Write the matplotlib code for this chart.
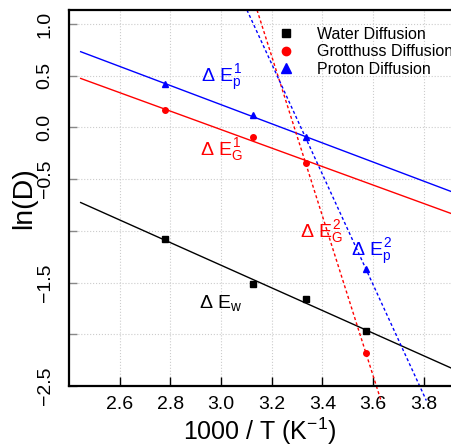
import numpy as np
import matplotlib
matplotlib.use('Agg')
import matplotlib.pyplot as plt

plt.rcParams['font.family'] = ['Liberation Sans', 'DejaVu Sans']
plt.rcParams['mathtext.fontset'] = 'custom'
plt.rcParams['mathtext.rm'] = 'Liberation Sans'
plt.rcParams['mathtext.it'] = 'Liberation Sans'
plt.rcParams['mathtext.bf'] = 'Liberation Sans:bold'

# 1000/T for 360, 320, 300, 280 K
inv_T = [2.778, 3.125, 3.333, 3.571]
ln_D_water = [-1.076, -1.515, -1.657, -1.966]
ln_D_grotthuss = [0.164, -0.097, -0.341, -2.179]
ln_D_proton = [0.420, 0.119, -0.097, -1.367]

series_names = ['Water Diffusion', 'Grotthuss Diffusion', 'Proton Diffusion']

x_ticks = [2.6, 2.8, 3.0, 3.2, 3.4, 3.6, 3.8]
x_ticklabels = ['2.6', '2.8', '3.0', '3.2', '3.4', '3.6', '3.8']
y_ticks = [1.0, 0.5, 0.0, -0.5, -1.0, -1.5, -2.0, -2.5]
y_ticklabels = ['1.0', '0.5', '0.0', '\u22120.5', '', '\u22121.5', '', '\u22122.5']

energy_labels = [r'$\Delta\ E_p^1$', r'$\Delta\ E_G^1$', r'$\Delta\ E_w$',
                 r'$\Delta\ E_G^2$', r'$\Delta\ E_p^2$']

XMIN, XMAX = 2.4, 3.907
YMIN, YMAX = -2.5, 1.136

fig = plt.figure(figsize=(4.51, 4.47), dpi=100)
ax = fig.add_axes([0.153, 0.1365, 0.847, 0.8412])

x = np.array(inv_T)
fit_x = np.array([2.446, 3.95])

# low-T-range fits (solid)
p_w = np.polyfit(x, ln_D_water, 1)
p_g = np.polyfit(x[:3], ln_D_grotthuss[:3], 1)
p_p = np.polyfit(x[:3], ln_D_proton[:3], 1)
ax.plot(fit_x, np.polyval(p_w, fit_x), color='black', lw=1.0)
ax.plot(fit_x, np.polyval(p_g, fit_x), color='red', lw=1.0)
ax.plot(fit_x, np.polyval(p_p, fit_x), color='blue', lw=1.0)

# steep segments through the two coldest points (dashed, run past the axis)
dash_y = np.array([YMAX, -2.64])
for yy, col in [(ln_D_grotthuss, 'red'), (ln_D_proton, 'blue')]:
    k = np.polyfit(x[2:], yy[2:], 1)
    ax.plot((dash_y - k[1]) / k[0], dash_y, color=col, lw=1.0,
            dashes=(2.2, 1.8), clip_on=False)

h1, = ax.plot(x, ln_D_water, 's', color='black', ms=4, ls='none')
h2, = ax.plot(x, ln_D_grotthuss, 'o', color='red', ms=4, ls='none')
h3, = ax.plot(x, ln_D_proton, '^', color='blue', ms=4.5, ls='none')

# activation energy labels
fs = 14
ax.text(3.004, 0.438, energy_labels[0], color='blue', fontsize=fs, ha='center', va='baseline')
ax.text(3.001, -0.264, energy_labels[1], color='red', fontsize=fs, ha='center', va='baseline')
ax.text(3.0, -1.744, energy_labels[2], color='black', fontsize=fs, ha='center', va='baseline')
ax.text(3.397, -1.061, energy_labels[3], color='red', fontsize=fs, ha='center', va='baseline')
ax.text(3.596, -1.248, energy_labels[4], color='blue', fontsize=fs, ha='center', va='baseline')

ax.set_xlim(XMIN, XMAX)
ax.set_ylim(YMIN, YMAX)
ax.set_xticks(x_ticks)
ax.set_xticklabels(x_ticklabels, fontsize=14)
ax.set_yticks(y_ticks)
ax.set_yticklabels(y_ticklabels, fontsize=14, rotation=90, va='center')
ax.tick_params(axis='x', direction='in', length=6.5, width=1.0, pad=7)
ax.tick_params(axis='y', direction='in', length=6, width=1.0, pad=11, color='#888888')
for i, t in enumerate(ax.xaxis.get_major_ticks()):
    t.tick1line.set_color('black' if i % 2 == 0 else '#888888')

ax.grid(True, color='#cccccc', lw=0.8, ls=':')
ax.set_axisbelow(True)

for s in ['left', 'bottom', 'top']:
    ax.spines[s].set_linewidth(1.6)
ax.spines['right'].set_visible(False)

ax.set_xlabel('1000 / T (K$^{-1}$)', fontsize=18, labelpad=2)
ax.set_ylabel('ln(D)', fontsize=20.5, labelpad=0)

# legend runs off the right edge, as in the original figure
ax.legend([h1, h2, h3], series_names, loc='upper left',
          bbox_to_anchor=(0.6175, 0.94), bbox_transform=fig.transFigure,
          frameon=False, fontsize=11.5, handlelength=1.0, handletextpad=1.4,
          labelspacing=0.15, borderpad=0, borderaxespad=0, markerscale=1.5)

fig.savefig('out.png', dpi=100)
